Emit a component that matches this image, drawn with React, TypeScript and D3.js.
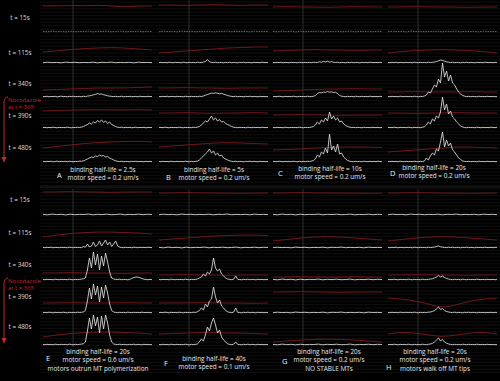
import React from "react";
import * as d3 from "d3";

// ---------- tick / row labels ----------
const rowLabels = ["t = 15s", "t = 115s", "t = 340s", "t = 390s", "t = 480s"];
const panelLetters = ["A", "B", "C", "D", "E", "F", "G", "H"];
const captionA = ["binding half-life = 2.5s", "motor speed = 0.2 um/s"];
const captionB = ["binding half-life = 5s", "motor speed = 0.2 um/s"];
const captionC = ["binding half-life = 10s", "motor speed = 0.2 um/s"];
const captionD = ["binding half-life = 20s", "motor speed = 0.2 um/s"];
const captionE = ["binding half-life = 20s", "motor speed = 0.6 um/s", "motors outrun MT polymerization"];
const captionF = ["binding half-life = 40s", "motor speed = 0.1 um/s"];
const captionG = ["binding half-life = 20s", "motor speed = 0.2 um/s", "NO STABLE MTs"];
const captionH = ["binding half-life = 20s", "motor speed = 0.2 um/s", "motors walk off MT tips"];
const annotation = ["Nocodazole", "at t = 365"];

// ---------- white traces (height above baseline) ----------
const flat1 = [0.6,0.2,0.9,0.4,0.7,0.1,0.8,0.3,0.6,0.5,0.9,0.2,0.7,0.4,0.8,0.3,0.5,0.9,0.2,0.6,0.4,0.8,0.3,0.7,0.5];
const flat2 = [0.3,0.8,0.4,0.6,0.2,0.9,0.5,0.7,0.3,0.6,0.4,0.8,0.2,0.7,0.5,0.9,0.3,0.6,0.4,0.7,0.2,0.8,0.5,0.6,0.4];

const A3 = [0.5,0.3,0.8,0.2,0.6,0.4,0.7,0.1,0.5,0.9,0.3,0.6,0.2,0.7,0.4,0.8,0.3,0.5,0.6,0.2,0.8,0.4,0.9,1.2,1.5,2.2,2.6,3.5,2.8,3.1,2.2,1.8,1.2,0.9,0.6,0.4,0.7,0.3,0.5,0.8,0.2,0.6,0.4,0.7,0.3,0.5,0.6,0.2,0.8,0.4,0.5,0.3,0.7,0.4,0.5];
const A4 = [0.4,0.7,0.2,0.6,0.3,0.8,0.5,0.2,0.7,0.4,0.6,0.3,0.9,0.5,0.2,0.6,0.4,0.8,0.5,0.9,1.5,2.5,3.5,5,4,6,5,7.5,6,8,5.5,7,4.5,6,3.5,2.5,1.5,0.8,0.5,0.9,0.3,0.6,0.4,0.7,0.2,0.5,0.8,0.3,0.6,0.4,0.7,0.2,0.5,0.6,0.4];
const A5 = [0.6,0.3,0.7,0.4,0.8,0.2,0.5,0.9,0.3,0.6,0.4,0.7,0.2,0.8,0.5,0.3,0.6,0.4,0.9,0.7,1.2,2,3,4,5,4.5,6,5.5,7,6,6.5,5,5.5,4,3,2,1.2,0.7,0.4,0.8,0.3,0.6,0.5,0.2,0.7,0.4,0.8,0.3,0.6,0.5,0.2,0.7,0.4,0.6,0.3];

const B2 = [0.4,0.7,0.3,0.6,0.2,0.8,0.5,0.3,0.7,0.4,0.6,0.2,0.8,0.5,0.3,0.7,0.4,0.6,0.3,0.8,0.5,0.4,0.9,1.5,3.5,1.2,0.6,0.4,0.8,0.3,0.6,0.5,0.2,0.7,0.4,0.8,0.3,0.6,0.5,0.2,0.7,0.4,0.8,0.3,0.6,0.5,0.2,0.7,0.4,0.6,0.3,0.8,0.5,0.4,0.6];
const B3 = [0.5,0.3,0.7,0.4,0.8,0.2,0.6,0.5,0.3,0.7,0.4,0.6,0.2,0.8,0.5,0.3,0.7,0.4,0.6,0.3,0.8,0.5,1,1.8,2.5,3.2,4,3.6,4.2,3.8,3.2,3.6,2.8,2.2,1.5,1,0.6,0.4,0.8,0.3,0.6,0.5,0.2,0.7,0.4,0.8,0.3,0.6,0.5,0.2,0.7,0.4,0.6,0.3,0.5];
const B4 = [0.4,0.6,0.3,0.8,0.5,0.2,0.7,0.4,0.6,0.3,0.8,0.5,0.2,0.7,0.4,0.6,0.3,0.8,0.5,0.9,1.5,3,5,7,6,9,12,8,10,7,8.5,6,6.5,4.5,3.5,2.5,1.5,0.8,0.5,0.3,0.7,0.4,0.6,0.2,0.8,0.5,0.3,0.7,0.4,0.6,0.3,0.8,0.5,0.4,0.6];
const B5 = [0.5,0.3,0.7,0.4,0.6,0.2,0.8,0.5,0.3,0.7,0.4,0.6,0.3,0.8,0.5,0.2,0.7,0.4,0.6,0.9,2,4,6,8,10,13,9,11,7,9,6,7,4,3,2,1.2,0.7,0.4,0.8,0.3,0.6,0.5,0.2,0.7,0.4,0.8,0.3,0.6,0.5,0.2,0.7,0.4,0.6,0.3,0.5];

const C2 = [0.5,0.3,0.7,0.4,0.8,0.2,0.6,0.5,0.3,0.7,0.4,0.6,0.2,0.8,0.5,0.3,0.7,0.4,0.6,0.3,0.8,0.5,0.6,1.2,0.8,1.5,1,1.8,0.9,1.3,0.7,0.5,0.8,0.3,0.6,0.5,0.2,0.7,0.4,0.8,0.3,0.6,0.5,0.2,0.7,0.4,0.6,0.3,0.8,0.5,0.4,0.6,0.3,0.7,0.5];
const C3 = [0.4,0.6,0.3,0.8,0.5,0.2,0.7,0.4,0.6,0.3,0.8,0.5,0.2,0.7,0.4,0.6,0.3,0.8,0.5,0.4,0.7,1.5,3.5,4.5,4.2,5,4.6,5.5,4.8,5.2,4.4,4.8,3.5,1.5,0.8,0.5,0.3,0.7,0.4,0.6,0.2,0.8,0.5,0.3,0.7,0.4,0.6,0.3,0.8,0.5,0.4,0.6,0.3,0.7,0.5];
const C4 = [0.5,0.3,0.7,0.4,0.6,0.2,0.8,0.5,0.3,0.7,0.4,0.6,0.3,0.8,0.5,0.2,0.7,0.4,0.6,0.9,1.5,3,6,4,8,6,10,7,16,9,12,8,10,6,7,4,2.5,1.5,0.8,0.4,0.7,0.3,0.6,0.5,0.2,0.8,0.4,0.6,0.3,0.7,0.5,0.4,0.6,0.3,0.5];
const C5 = [0.4,0.6,0.3,0.8,0.5,0.2,0.7,0.4,0.6,0.3,0.8,0.5,0.2,0.7,0.4,0.6,0.3,0.8,0.5,0.9,1.5,3,7,5,10,8,14,9,28,12,16,10,18,8,9,5,3,1.5,0.8,0.5,0.3,0.7,0.4,0.6,0.2,0.8,0.5,0.3,0.7,0.4,0.6,0.3,0.8,0.5,0.4];

const D2 = [0.5,0.3,0.7,0.4,0.8,0.2,0.6,0.5,0.3,0.7,0.4,0.6,0.2,0.8,0.5,0.3,0.7,0.4,0.6,0.3,0.8,0.5,0.7,1,1.5,2.2,3,2.5,1.8,1.2,0.8,0.5,0.8,0.3,0.6,0.5,0.2,0.7,0.4,0.8,0.3,0.6,0.5,0.2,0.7,0.4,0.6,0.3,0.8,0.5,0.4,0.6,0.3,0.7,0.5];
const D3 = [0.5,0.3,0.7,0.4,0.6,0.2,0.8,0.5,0.3,0.7,0.4,0.6,0.3,0.8,0.5,0.2,0.7,0.4,1,2,5,4,8,12,10,18,14,34,20,26,16,22,14,12,8,5,3,1.5,0.8,0.4,0.7,0.3,0.6,0.5,0.2,0.8,0.4,0.6,0.3,0.7,0.5,0.4,0.6,0.3,0.5];
const D4 = [0.4,0.6,0.3,0.8,0.5,0.2,0.7,0.4,0.6,0.3,0.8,0.5,0.2,0.7,0.4,0.6,0.3,0.8,1.2,3,6,4,9,7,12,10,16,31,18,24,14,17,11,9,6,4,2,1,0.5,0.3,0.7,0.4,0.6,0.2,0.8,0.5,0.3,0.7,0.4,0.6,0.3,0.8,0.5,0.4,0.6];
const D5 = [0.5,0.3,0.7,0.4,0.6,0.2,0.8,0.5,0.3,0.7,0.4,0.6,0.3,0.8,0.5,0.2,0.7,0.4,1,4,2,6,9,7,13,11,20,30,15,22,16,19,12,10,7,4,2.5,1,0.6,0.4,0.7,0.3,0.6,0.5,0.2,0.8,0.4,0.6,0.3,0.7,0.5,0.4,0.6,0.3,0.5];

const E2 = [0.5,0.3,0.7,0.4,0.8,0.2,0.6,0.5,0.3,0.7,0.4,0.6,0.2,0.8,0.5,0.3,0.7,0.4,0.6,0.3,1.5,0.8,4,1,2,6,1.5,3,7,2,5,8,3,6,1.5,4,7,2,0.8,0.5,0.3,0.7,0.4,0.6,0.2,0.8,0.5,0.3,0.7,0.4,0.6,0.3,0.8,0.5,0.4];
const E3 = [0.5,0.3,0.7,0.4,0.6,0.2,0.8,0.5,0.3,0.7,0.4,0.6,0.3,0.8,0.5,0.2,0.7,0.4,0.6,0.9,1.2,2,10,22,12,28,15,26,10,24,14,27,18,8,2,1,0.6,0.4,0.8,0.3,0.6,0.5,0.2,0.7,1.5,2.5,3,2.8,2.2,1.5,0.8,0.5,0.3,0.6,0.4];
const E4 = [0.4,0.6,0.3,0.8,0.5,0.2,0.7,0.4,0.6,0.3,0.8,0.5,0.2,0.7,0.4,0.6,0.3,0.8,0.5,0.7,1,2.5,12,25,14,29,18,27,11,26,15,28,20,9,2.5,1,0.5,0.3,0.7,0.4,0.6,0.2,0.8,0.5,0.3,0.7,0.4,0.6,0.3,0.8,0.5,0.4,0.6,0.3,0.5];
const E5 = [0.5,0.3,0.7,0.4,0.6,0.2,0.8,0.5,0.3,0.7,0.4,0.6,0.3,0.8,0.5,0.2,0.7,0.4,0.6,0.9,1.2,3,14,27,16,30,19,28,12,29,16,30,22,10,3,1,0.6,0.4,0.8,0.3,0.6,0.5,0.2,0.7,0.4,0.8,0.3,0.6,0.5,0.2,0.7,0.4,0.6,0.3,0.5];

const F3 = [0.5,0.3,0.7,0.4,0.6,0.2,0.8,0.5,0.3,0.7,0.4,0.6,0.3,0.8,0.5,0.2,0.7,0.4,0.6,1,2,3,6,4,8,6,10,22,12,9,11,6,4,2,1,0.6,0.4,0.8,4,0.6,0.5,0.2,0.7,0.4,0.8,0.3,0.6,0.5,0.2,0.7,0.4,0.6,0.3,0.5,0.4];
const F4 = [0.4,0.6,0.3,0.8,0.5,0.2,0.7,0.4,0.6,0.3,0.8,0.5,0.2,0.7,0.4,0.6,0.3,0.8,0.5,1.2,2.5,5,3,9,6,12,14,26,16,10,13,7,5,2.5,1.2,0.6,0.4,0.8,5,0.6,0.5,0.2,0.7,0.4,0.8,0.3,0.6,0.5,0.2,0.7,0.4,0.6,0.3,0.5,0.4];
const F5 = [0.5,0.3,0.7,0.4,0.6,0.2,0.8,0.5,0.3,0.7,0.4,0.6,0.3,0.8,0.5,0.2,0.7,0.4,0.6,1,3,6,4,10,18,14,22,27,20,12,15,8,5,3,1.2,0.6,0.4,0.8,3,0.6,0.5,0.2,0.7,0.4,0.8,0.3,0.6,0.5,0.2,0.7,0.4,0.6,0.3,0.5,0.4];

const H2 = [0.5,0.3,0.7,0.4,0.8,0.2,0.6,0.5,0.3,0.7,0.4,0.6,0.2,0.8,0.5,0.3,0.7,0.4,0.6,0.3,0.8,0.5,0.7,0.9,1.4,2,1.2,0.8,0.6,0.4,0.8,0.5,0.8,0.3,0.6,0.5,0.2,0.7,0.4,0.8,0.3,0.6,0.5,0.2,0.7,0.4,0.6,0.3,0.8,0.5,0.4,0.6,0.3,0.7,0.5];
const H3 = [0.4,0.6,0.3,0.8,0.5,0.2,0.7,0.4,0.6,0.3,0.8,0.5,0.2,0.7,0.4,0.6,0.3,0.8,0.5,0.4,0.7,0.9,1.2,2,3,4.5,3,4,2.5,1.5,0.9,0.6,0.3,0.7,0.4,0.6,0.2,0.8,0.5,0.3,0.7,0.4,0.6,0.3,0.8,0.5,0.4,0.6,0.3,0.7,0.5,0.4,0.6,0.3,0.5];
const H4 = [0.5,0.3,0.7,0.4,0.6,0.2,0.8,0.5,0.3,0.7,0.4,0.6,0.3,0.8,0.5,0.2,0.7,0.4,0.6,0.5,0.8,1,1.5,2.5,4,6,3.5,4.5,2.5,1.5,1,0.6,0.4,0.8,0.3,0.6,0.5,0.2,0.7,0.4,0.8,0.3,0.6,0.5,0.2,0.7,0.4,0.6,0.3,0.5,0.4,0.7,0.3,0.6,0.5];
const H5 = [0.4,0.6,0.3,0.8,0.5,0.2,0.7,0.4,0.6,0.3,0.8,0.5,0.2,0.7,0.4,0.6,0.3,0.8,0.5,0.4,0.7,1,1.6,3,5,7,4,5.5,3,1.8,1,0.6,0.3,0.7,0.4,0.6,0.2,0.8,0.5,0.3,0.7,0.4,0.6,0.3,0.8,0.5,0.4,0.6,0.3,0.7,0.5,0.4,0.6,0.3,0.5];

const whiteA = [flat1, flat2, A3, A4, A5];
const whiteB = [flat2, B2, B3, B4, B5];
const whiteC = [flat1, C2, C3, C4, C5];
const whiteD = [flat2, D2, D3, D4, D5];
const whiteE = [flat1, E2, E3, E4, E5];
const whiteF = [flat2, flat1, F3, F4, F5];
const whiteG = [flat1, flat2, flat1, flat2, flat1];
const whiteH = [flat2, H2, H3, H4, H5];

// ---------- red traces (height above the row's baseline) ----------
const redA = [[26,26,26.5,26,27,26,25,26,26],[11,12,13.5,14.5,15,15.5,15,14,13],[7,7.5,8,8.5,9,9,9,9.5,10],[17,17.5,18,18,18.5,18,18,18.5,18],[14,15.5,17,18.5,19.5,20,20.5,21,20]];
const redB = [[27,27,26.5,27,27.5,27,26.5,27,27],[10,11,12,13,14,15,15.5,16,16],[9,9,9.5,9,9,8.5,9,9,9],[15,15,15.5,15,14.5,15,15,15.5,15],[15,16,17,18,19,19.5,19,18.5,18]];
const redC = [[25,25.5,25,25,24.5,25,25.5,25,25],[12,12.5,13,13.5,13,13,12.5,13,13],[6,6.5,7,7.5,8,8,8.5,8,8],[13,13,13.5,13,13,12.5,13,13,13],[12,12.5,13,14,14.5,15,15,15,14.5]];
const redD = [[25,25,25.5,25,25,25,24.5,25,25],[10,11.5,12.5,13,13.5,13,12.5,11.5,10],[5,5,5.5,5,5,5,5.5,5,5],[15,15,14.5,15,15,15.5,15,15,15],[10,11,12,13,14,15,15,14.5,14]];
const redE = [[23,23,23.5,23,23,22.5,23,23,23],[11,13,14.5,15.5,16,16,15.5,15,14],[7,7,7.5,7,7,7,6.5,7,7],[10,10,10.5,10,10,10,10.5,10,10],[8,10,11.5,12.5,13,13,12.5,12,11]];
const redF = [[22,22,22.5,22,22,22,21.5,22,22],[8,9,10,11,12,12.5,13,13,12.5],[5,5,5.5,5,5,4.5,5,5,5],[10,10,10,10.5,10,10,10,9.5,10],[11,11.5,12,12.5,12.5,12,12,11.5,11]];
const redG = [[22,22,22.5,22,22,22,22,21.5,22],[7,8.5,10,11,11.5,11,10,9,8],[3,3,3.5,3,3,3,3.5,3,3],[21,21,21.5,21,21,20.5,21,21,21],[3,4,5,5.5,6,5.5,5,4,3]];
const redH = [[22,22,22.5,22,22,22,21.5,22,22],[7,8.5,10,11,11.5,11,10,9,8],[5,5,5.5,5,5,5,4.5,5,5],[15,14,12,9,5,8,12,14,15],[11,13,12,10,8,10,12,13,11]];

const W = 500;
const H = 381;

export default function App() {
  const colX = [43, 159, 273, 388];
  const panelW = 109;
  const baseTop = [32, 63, 97, 128, 162];
  const baseBot = [215, 248, 280, 313, 345];
  const labelTop = [20, 55, 86, 118, 150];
  const labelBot = [202, 235, 267, 299, 329];

  const panels = [
    { white: whiteA, red: redA, caption: captionA },
    { white: whiteB, red: redB, caption: captionB },
    { white: whiteC, red: redC, caption: captionC },
    { white: whiteD, red: redD, caption: captionD },
    { white: whiteE, red: redE, caption: captionE },
    { white: whiteF, red: redF, caption: captionF },
    { white: whiteG, red: redG, caption: captionG },
    { white: whiteH, red: redH, caption: captionH },
  ];

  const gridYs = d3.range(2, H - 6, 3.4);
  const font = "'Open Sans', 'Liberation Sans', sans-serif";

  const captionPos = [
    { lx: 57, ly: 178, tx: 103, ty: [172, 180] },
    { lx: 166, ly: 180, tx: 214, ty: [172, 180] },
    { lx: 278, ly: 176, tx: 330, ty: [171, 179] },
    { lx: 390, ly: 176, tx: 434, ty: [170, 178] },
    { lx: 46, ly: 361, tx: 98, ty: [354, 362, 371] },
    { lx: 164, ly: 366, tx: 214, ty: [361, 369] },
    { lx: 282, ly: 364, tx: 329, ty: [354, 362, 371] },
    { lx: 386, ly: 370, tx: 435, ty: [354, 362, 371] },
  ];

  return (
    <svg
      width={W}
      height={H}
      style={{ position: "absolute", left: 0, top: 0, background: "#000" }}
    >
      <rect x={0} y={0} width={W} height={H} fill="#000" />
      {/* faint grid */}
      {gridYs.map((y, i) => (
        <line key={"g" + i} x1={40} x2={W} y1={y} y2={y} stroke="#1e1e1e" strokeWidth={0.5} />
      ))}
      <line x1={40} x2={W} y1={187} y2={187} stroke="#3a3a3a" strokeWidth={0.6} />

      {panels.map((p, pi) => {
        const col = pi % 4;
        const bottom = pi >= 4;
        const x0 = colX[col];
        const bases = bottom ? baseBot : baseTop;
        const vx = x0 + 30;
        return (
          <g key={"p" + pi}>
            <line
              x1={vx}
              x2={vx}
              y1={bottom ? 189 : 0}
              y2={bottom ? 347 : 164}
              stroke="#4a4a4a"
              strokeWidth={0.6}
            />
            {p.red.map((vals, ri) => {
              const xs = d3.scaleLinear().domain([0, vals.length - 1]).range([x0, x0 + panelW]);
              const ys = d3.scaleLinear().domain([0, 40]).range([bases[ri], bases[ri] - 40]);
              const line = d3
                .line<number>()
                .x((_, i) => xs(i))
                .y((v) => ys(v))
                .curve(d3.curveBasis);
              return (
                <path key={"r" + ri} d={line(vals) || ""} fill="none" stroke="#7e1a1c" strokeWidth={0.9} />
              );
            })}
            {p.white.map((vals, ri) => {
              const xs = d3.scaleLinear().domain([0, vals.length - 1]).range([x0, x0 + panelW]);
              const ys = d3.scaleLinear().domain([0, 40]).range([bases[ri], bases[ri] - 40]);
              const line = d3
                .line<number>()
                .x((_, i) => xs(i))
                .y((v) => ys(v));
              const dim = !bottom && ri === 0;
              return (
                <path
                  key={"w" + ri}
                  d={line(vals) || ""}
                  fill="none"
                  stroke={dim ? "#999" : "#e0e0e0"}
                  strokeWidth={dim ? 0.7 : 0.85}
                  strokeDasharray={dim ? "1.5 1" : undefined}
                />
              );
            })}
            <text
              x={captionPos[pi].lx}
              y={captionPos[pi].ly}
              fill="#eee"
              fontSize={7.5}
              fontFamily={font}
            >
              {panelLetters[pi]}
            </text>
            {p.caption.map((c, ci) => (
              <text
                key={"c" + ci}
                x={captionPos[pi].tx}
                y={captionPos[pi].ty[ci]}
                fill="#e6e6e6"
                fontSize={6.4}
                fontFamily={font}
                textAnchor="middle"
              >
                {c}
              </text>
            ))}
          </g>
        );
      })}

      {/* row labels */}
      {rowLabels.map((t, i) => (
        <text key={"lt" + i} x={20} y={labelTop[i]} fill="#ddd" fontSize={6.3} fontFamily={font} textAnchor="middle">
          {t}
        </text>
      ))}
      {rowLabels.map((t, i) => (
        <text key={"lb" + i} x={20} y={labelBot[i]} fill="#ddd" fontSize={6.3} fontFamily={font} textAnchor="middle">
          {t}
        </text>
      ))}

      {/* nocodazole annotations */}
      {[100, 281].map((y0, k) => (
        <g key={"n" + k}>
          <text x={8} y={y0 + 1.5} fill="#c0282d" fontSize={6} fontFamily={font}>
            {annotation[0]}
          </text>
          <text x={8} y={y0 + 8.5} fill="#c0282d" fontSize={6} fontFamily={font}>
            {annotation[1]}
          </text>
          <path
            d={`M8,${y0 - 3} Q4,${y0 - 3} 4,${y0 + 3} L4,${y0 + 58}`}
            fill="none"
            stroke="#c0282d"
            strokeWidth={1}
          />
          <path d={`M1.5,${y0 + 57} L6.5,${y0 + 57} L4,${y0 + 63} Z`} fill="#c0282d" />
        </g>
      ))}
    </svg>
  );
}
